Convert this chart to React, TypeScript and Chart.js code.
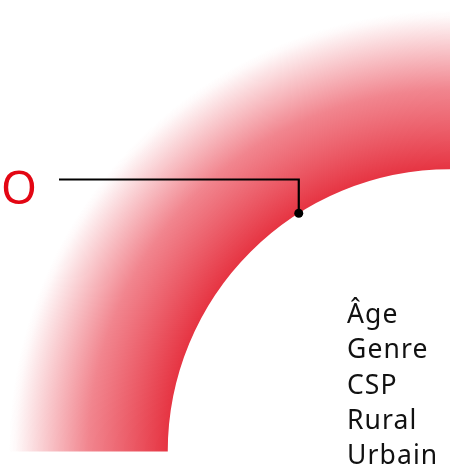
import React, { useEffect, useRef } from "react";
import { Chart, registerables } from "chart.js";

Chart.register(...registerables);

// Data
const segmentLabels = ["Ensemble"];
const segmentValues = [1];
const markerLabel = "O";
const markerFraction = 0.64; // position of the marker along the arc (0 = left end, 1 = top end)
const listLabels = ["Âge", "Genre", "CSP", "Rural", "Urbain"];

const RED_INNER = "rgb(230,52,66)";
const RED_TEXT = "#e30613";

const overlayPlugin = {
  id: "overlay",
  afterDatasetsDraw(chart: any) {
    const meta = chart.getDatasetMeta(0);
    const arc = meta.data[0];
    if (!arc) return;
    const { x, y, innerRadius, startAngle, endAngle } = arc.getProps(
      ["x", "y", "innerRadius", "startAngle", "endAngle"],
      true
    );
    const ang = startAngle + (endAngle - startAngle) * markerFraction;
    const px = x + Math.cos(ang) * innerRadius;
    const py = y + Math.sin(ang) * innerRadius;
    const ctx = chart.ctx;
    ctx.save();
    // leader line
    const lineY = 179.5;
    ctx.strokeStyle = "#000";
    ctx.lineWidth = 2.2;
    ctx.beginPath();
    ctx.moveTo(59, lineY);
    ctx.lineTo(px, lineY);
    ctx.lineTo(px, py);
    ctx.stroke();
    ctx.fillStyle = "#000";
    ctx.beginPath();
    ctx.arc(px, py, 4.5, 0, Math.PI * 2);
    ctx.fill();
    // marker label
    ctx.fillStyle = RED_TEXT;
    ctx.font = '46px "Noto Sans", sans-serif';
    ctx.textBaseline = "alphabetic";
    ctx.textAlign = "left";
    ctx.fillText(markerLabel, 1, 204);
    // list labels
    ctx.fillStyle = "#111";
    ctx.font = '26.5px "Noto Sans", sans-serif';
    try {
      (ctx as any).letterSpacing = "1.1px";
    } catch (e) {}
    listLabels.forEach((t, i) => {
      ctx.fillText(t, 347, 323 + i * 35.3);
    });
    ctx.restore();
  },
};

export default function App() {
  const ref = useRef<HTMLCanvasElement | null>(null);
  useEffect(() => {
    if (!ref.current) return;
    const chart = new Chart(ref.current, {
      type: "doughnut",
      data: {
        labels: segmentLabels,
        datasets: [
          {
            data: segmentValues,
            borderWidth: 0,
            backgroundColor: (c: any) => {
              const ch = c.chart;
              const meta = ch.getDatasetMeta(0);
              const ctrl: any = meta.controller;
              const area = ch.chartArea;
              if (!area || !ctrl || !ctrl.outerRadius) return RED_INNER;
              const cx = (area.left + area.right) / 2 + ctrl.offsetX;
              const cy = (area.top + area.bottom) / 2 + ctrl.offsetY;
              const g = ch.ctx.createRadialGradient(cx, cy, ctrl.innerRadius, cx, cy, ctrl.outerRadius);
              g.addColorStop(0, "rgba(230,52,66,1)");
              g.addColorStop(0.5, "rgba(234,70,84,0.66)");
              g.addColorStop(0.96, "rgba(234,70,84,0.03)");
              g.addColorStop(1, "rgba(234,70,84,0)");
              return g;
            },
          },
        ],
      },
      options: {
        responsive: false,
        animation: false,
        rotation: -90,
        circumference: 90,
        cutout: "64%",
        layout: { padding: { left: 9, top: 10, right: 10, bottom: 18 } },
        plugins: {
          legend: { display: false },
          tooltip: { enabled: false },
        },
        events: [],
      },
      plugins: [overlayPlugin],
    });
    return () => chart.destroy();
  }, []);
  return (
    <div
      style={{
        position: "absolute",
        left: 0,
        top: 0,
        width: 450,
        height: 470,
        overflow: "hidden",
        background: "#fff",
      }}
    >
      <canvas ref={ref} width={460} height={470} style={{ display: "block" }} />
    </div>
  );
}
